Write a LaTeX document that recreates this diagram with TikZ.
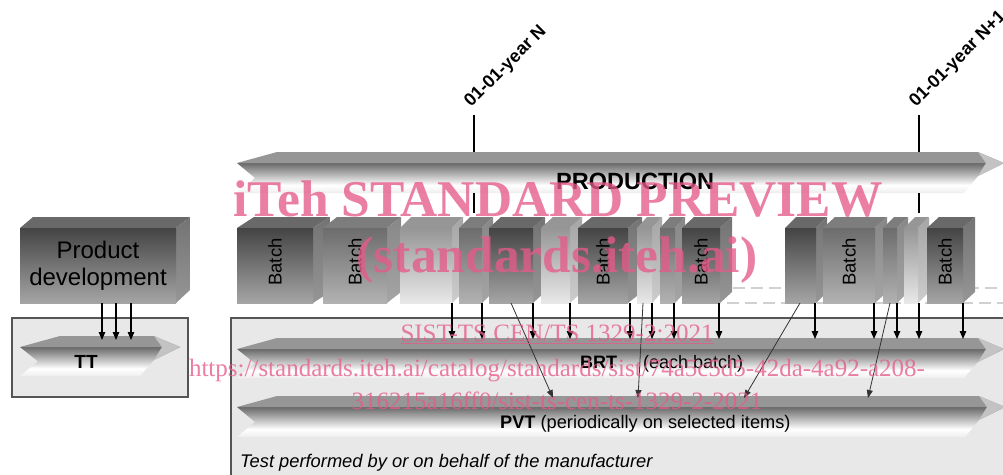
\documentclass[tikz,border=0pt]{standalone}
\usepackage{fontspec}
\setmainfont{Liberation Sans}
\newfontfamily\wmfont{Liberation Serif}
\usetikzlibrary{arrows.meta}
\definecolor{dHi}{RGB}{68,68,68}
\definecolor{dLo}{RGB}{165,165,165}
\definecolor{dTop}{RGB}{105,105,105}
\definecolor{dSideHi}{RGB}{115,115,115}
\definecolor{dSideLo}{RGB}{150,150,150}
\definecolor{mHi}{RGB}{108,108,108}
\definecolor{mLo}{RGB}{178,178,178}
\definecolor{mTop}{RGB}{125,125,125}
\definecolor{mSideHi}{RGB}{135,135,135}
\definecolor{mSideLo}{RGB}{165,165,165}
\definecolor{lHi}{RGB}{150,150,150}
\definecolor{lLo}{RGB}{232,232,232}
\definecolor{lTop}{RGB}{150,150,150}
\definecolor{lSideHi}{RGB}{165,165,165}
\definecolor{lSideLo}{RGB}{205,205,205}
\definecolor{bandHi}{RGB}{105,105,105}
\definecolor{bandMid}{RGB}{185,185,185}
\definecolor{bandLo}{RGB}{238,238,238}
\definecolor{bandTop}{RGB}{150,150,150}
\definecolor{bandTip}{RGB}{195,195,195}
\definecolor{regionfill}{RGB}{232,232,232}
\definecolor{regionline}{RGB}{85,85,85}
\definecolor{dashgray}{RGB}{208,208,208}
\definecolor{wmpink}{RGB}{230,90,138}
\pgfdeclareverticalshading{bandsh}{100bp}{color(0bp)=(bandLo); color(25bp)=(bandLo); color(38bp)=(white); color(55bp)=(bandMid); color(75bp)=(bandHi); color(100bp)=(bandHi)}
\tikzset{
  batchlbl/.style={rotate=90, inner sep=0pt, font=\fontsize{18.5}{18.5}\selectfont},
  arr/.style={-{Triangle[length=8pt,width=6.5pt]}, line width=1.1pt, black},
  darr/.style={-{Triangle[length=8pt,width=6pt]}, line width=0.8pt, black!80},
  markline/.style={line width=2.5pt, black},
  region/.style={fill=regionfill, draw=regionline, line width=1.1pt},
  dashline/.style={draw=dashgray, line width=2.6pt, dash pattern=on 12pt off 6pt},
  datelbl/.style={rotate=45, inner sep=0pt, font=\bfseries\fontsize{18}{18}\selectfont},
  wmbig/.style={inner sep=0pt, text=wmpink, opacity=0.78, font=\wmfont\bfseries\fontsize{51.5}{51.5}\selectfont},
  wmsmall/.style={inner sep=0pt, text=wmpink, opacity=0.78, font=\wmfont\fontsize{25}{25}\selectfont},
  plain/.style={inner sep=0pt}
}
\newcommand\bbox[6]{%
  \fill[#5Top] (#2,228) -- (#2+#4,217) -- (#3+#4,217) -- (#3,228) -- cycle;
  \shade[top color=#5SideHi, bottom color=#5SideLo] (#3,228) -- (#3+#4,217) -- (#3+#4,292) -- (#3,303) -- cycle;
  \shade[top color=#5Hi, bottom color=#5Lo] (#2,228) rectangle (#3,303);
  \node[batchlbl] (#1) at ({(#2+#3)/2},262) {#6};
}
\newcommand\ribbon[4]{%
  \shade[shading=bandsh] (#1,#3+11) -- (#2,#3+11) -- (#2-26,#3+24) -- (#2-40,#3+11+#4) -- (#1,#3+11+#4) -- (#1+18,{#3+11+#4/2}) -- cycle;
  \fill[bandTop] (#1,#3+11) -- (#1+40,#3) -- (#2-26,#3) -- (#2,#3+11) -- cycle;
  \fill[bandTip] (#2-26,#3) -- (#2,#3+11) -- (#2-26,#3+24) -- (#2-18,#3+11) -- cycle;
}
\begin{document}
\begin{tikzpicture}[x=1pt,y=-1pt]
\useasboundingbox (0,0) rectangle (1003,474);
\clip (0,0) rectangle (1003,474);
\fill[white] (0,0) rectangle (1003,474);

% regions
\draw[region] (12,318) rectangle (188,397);
\draw[region] (231,318) rectangle (1010,480);

% bands
\ribbon{237}{1004}{152}{30}
\ribbon{20}{180}{336}{29}
\ribbon{237}{1004}{338}{29}
\ribbon{237}{1005}{396}{30}

% year markers
\coordinate (m1a) at (474,115); \coordinate (m1b) at (474,152);
\coordinate (m1c) at (474,193); \coordinate (m1d) at (474,213);
\coordinate (m2a) at (919,115); \coordinate (m2b) at (919,152);
\coordinate (m2c) at (919,193); \coordinate (m2d) at (919,213);
\draw[markline] (m1a) -- (m1b);
\draw[markline] (m1c) -- (m1d);
\draw[markline] (m2a) -- (m2b);
\draw[markline] (m2c) -- (m2d);
\node[datelbl, anchor=base west] (dN) at (471,108) {01-01-year N};
\node[datelbl, anchor=base west] (dN1) at (916,108) {01-01-year N+1};

% dashed lines
\coordinate (da1) at (733,288); \coordinate (da2) at (1003,288);
\coordinate (db1) at (727,303); \coordinate (db2) at (1003,303);
\draw[dashline] (da1) -- (da2);
\draw[dashline] (db1) -- (db2);

% product development
\fill[dTop] (20,228) -- (33,217) -- (190,217) -- (176,228) -- cycle;
\shade[top color=dSideHi, bottom color=dSideLo] (176,228) -- (190,217) -- (190,290) -- (176,303) -- cycle;
\shade[top color=dHi, bottom color=dLo] (20,228) rectangle (176,303);
\node[align=center, inner sep=0pt, font=\fontsize{24}{27}\selectfont] (pd) at (98,266) {Product\\development};

% batches
\bbox{b1}{237}{313}{17}{d}{Batch}
\bbox{b2}{323}{387}{14}{m}{Batch}
\bbox{b3}{400}{452}{11}{l}{}
\bbox{b4}{459}{482}{11}{m}{}
\bbox{b5}{489}{533}{12}{d}{}
\bbox{b6}{541}{570}{12}{l}{}
\bbox{b7}{578}{628}{14}{d}{Batch}
\bbox{b8}{637}{652}{10}{l}{}
\bbox{b9}{660}{675}{10}{m}{}
\bbox{b10}{682}{720}{12}{d}{Batch}
\bbox{b11}{785}{816}{11}{d}{}
\bbox{b12}{823}{875}{12}{m}{Batch}
\bbox{b13}{883}{897}{11}{m}{}
\bbox{b14}{904}{918}{11}{l}{}
\bbox{b15}{927}{963}{12}{d}{Batch}

% labels
\node[plain, anchor=base west, font=\bfseries\fontsize{23.5}{23.5}\selectfont] (prod) at (556,189) {PRODUCTION};
\node[plain, font=\bfseries\fontsize{19}{19}\selectfont] (tt) at (86,362) {TT};
\node[plain, anchor=base west, font=\bfseries\fontsize{18}{18}\selectfont] (brt) at (580,368) {BRT};
\node[plain, anchor=base west, font=\fontsize{18}{18}\selectfont] (brtx) at (643,368) {(each batch)};
\node[plain, anchor=base west, font=\fontsize{18.2}{18.2}\selectfont] (pvt) at (500,428) {\textbf{PVT} (periodically on selected items)};
\node[plain, anchor=base west, font=\itshape\fontsize{18.3}{18.3}\selectfont] (tp) at (240,467) {Test performed by or on behalf of the manufacturer};

% TT arrows
\foreach \x [count=\i] in {102,116,131} {
  \coordinate (ts\i) at (\x,303); \coordinate (te\i) at (\x,340);
  \draw[arr] (ts\i) -- (te\i);
}
% BRT arrows
\foreach \x [count=\i] in {452,482,533,570,630,652,674,719,815,874,897,919,963} {
  \coordinate (vs\i) at (\x,303); \coordinate (ve\i) at (\x,339);
  \draw[arr] (vs\i) -- (ve\i);
}
% PVT arrows
\foreach \a/\b [count=\i] in {511/553,643/638,800/744,890/868} {
  \coordinate (ps\i) at (\a,303); \coordinate (pe\i) at (\b,398);
  \draw[darr] (ps\i) -- (pe\i);
}

% watermark
\node[wmbig, anchor=base] (w1) at (558,216) {iTeh STANDARD PREVIEW};
\node[wmbig, anchor=base] (w2) at (557,272) {(standards.iteh.ai)};
\node[wmsmall, anchor=base] (w3) at (557,341) {\underline{SIST-TS CEN/TS 1329-2:2021}};
\node[wmsmall, anchor=base] (w4) at (557,376) {https://standards.iteh.ai/catalog/standards/sist/74a5c5d5-42da-4a92-a208-};
\node[wmsmall, anchor=base] (w5) at (557,409) {316215a16ff0/sist-ts-cen-ts-1329-2-2021};
\end{tikzpicture}
\end{document}
